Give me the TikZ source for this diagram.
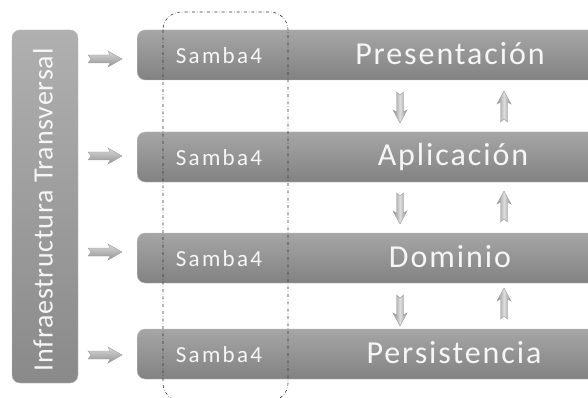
\documentclass[tikz,border=0pt]{standalone}
\usepackage{fontspec}
\setmainfont{Carlito}
\newfontfamily\capafont[LetterSpace=6]{Carlito}
\newfontfamily\sambafont[LetterSpace=10]{Carlito}
\newfontfamily\infrafont[LetterSpace=3]{Carlito}
\usetikzlibrary{positioning}

\tikzset{
	flechabaja/.pic = {
		\path[draw = gray!75, left color = gray!90, right color = gray!90, middle color = gray!25]
			(-3.5,0) -- (0,3) -- (3.5,0) -- (3.5,20) -- (7,18) -- (0,31) -- (-7,18) -- (-3.5,20) -- cycle;
	},
	flechalado/.pic = {
		\path[draw = gray!75, top color = gray!30, bottom color = gray!85]
			(0,-4) -- (22,-4) -- (20,-8) -- (34,0) -- (20,8) -- (22,4) -- (0,4) -- (3,0) -- cycle;
	}
}

\begin{document}
\begin{tikzpicture}[x=1pt,y=-1pt]
			\tikzstyle{every node} = [text = white!93!gray, inner sep = 0pt, anchor = base]
			\tikzstyle{capa} = [rounded corners = 8pt, top color = gray!70, bottom color = gray!98, draw = gray!55,
				minimum height = 50pt, minimum width = 470pt, anchor = west]
			\tikzstyle{etiqueta} = [font = \capafont\fontsize{32}{36}\selectfont]
			\tikzstyle{samba} = [font = \sambafont\fontsize{23}{27}\selectfont]
				\path[use as bounding box, clip] (0,0) rectangle (588,398);
				\node[rotate = 90, rounded corners = 8pt, minimum width = 353pt, minimum height = 66pt,
					top color = gray!62, bottom color = gray!92, draw = gray!55, anchor = center]
					(infra) at (45,206.5) {};
				\node[rotate = 90, font = \infrafont\fontsize{28}{32}\selectfont] (tinfra) at (52.5,210) {Infraestructura Transversal};
				\node[capa] (pres) at (137,55) {};
				\node[capa] (apli) at (137,157) {};
				\node[capa] (domi) at (137,258) {};
				\node[capa] (pers) at (137,354) {};
				\node[etiqueta] (tpres) at (450,65) {Presentación};
				\node[etiqueta] (tapli) at (453,165.5) {Aplicación};
				\node[etiqueta] (tdomi) at (450,267) {Dominio};
				\node[etiqueta] (tpers) at (454,363.5) {Persistencia};
				\node[samba] (s1) at (219,63.5) {Samba4};
				\node[samba] (s2) at (219,165) {Samba4};
				\node[samba] (s3) at (219,266) {Samba4};
				\node[samba] (s4) at (219,362) {Samba4};
				\pic at (88,59) {flechalado};
				\pic at (88,156) {flechalado};
				\pic at (88,252) {flechalado};
				\pic at (88,355) {flechalado};
				\pic at (400,92) {flechabaja};
				\pic[rotate = 180] at (504,122) {flechabaja};
				\pic at (400,193) {flechabaja};
				\pic[rotate = 180] at (504,222) {flechabaja};
				\pic at (400,295) {flechabaja};
				\pic[rotate = 180] at (504,319) {flechabaja};
				\path[draw, dash dot, gray!40!black, line width = 0.6pt, rounded corners = 18pt] (163,12) rectangle (288,401);
\end{tikzpicture}
\end{document}
